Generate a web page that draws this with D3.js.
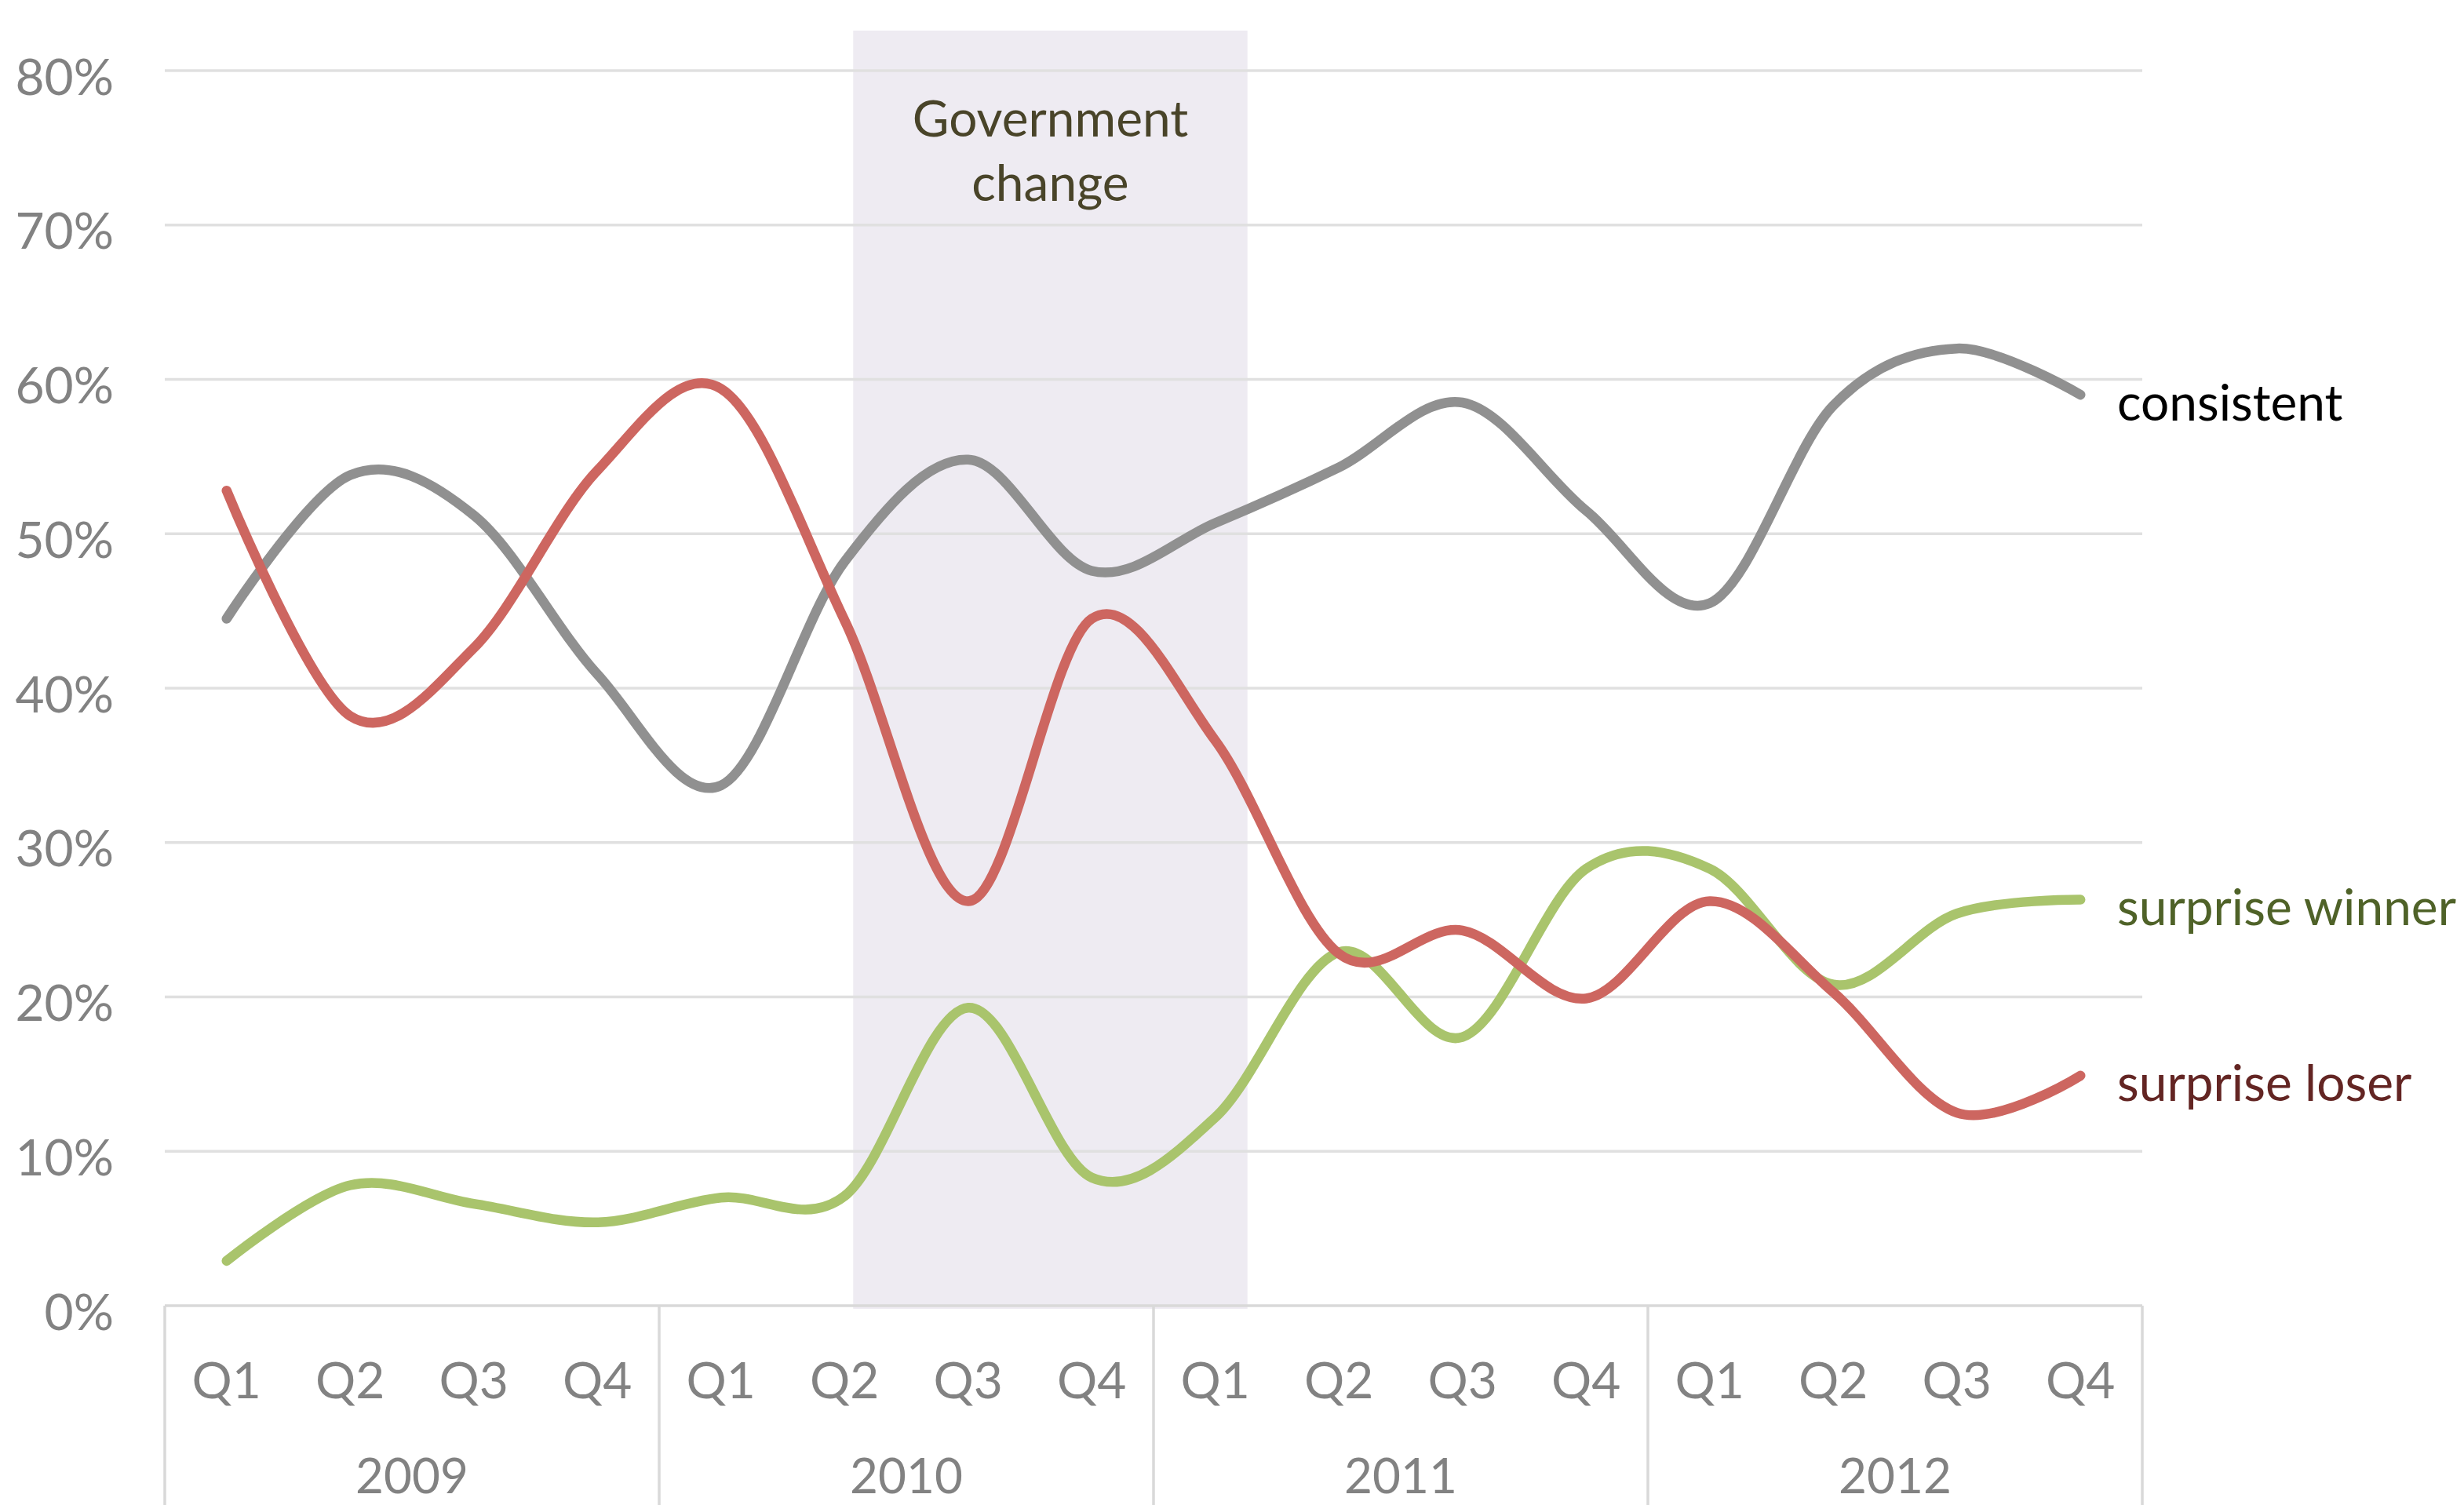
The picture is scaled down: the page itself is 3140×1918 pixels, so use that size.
<!DOCTYPE html>
<html>
<head>
<meta charset="utf-8">
<script src="https://cdn.jsdelivr.net/npm/d3@7"></script>
<style>
  html, body { margin: 0; padding: 0; background: #fff; }
  svg { display: block; font-family: Lato, 'Open Sans', sans-serif; }
</style>
</head>
<body>
<svg id="chart" width="3140" height="1918"></svg>
<script>
const years = ['2009', '2010', '2011', '2012'];
const quarters = ['Q1', 'Q2', 'Q3', 'Q4'];
const yTicks = [0, 0.1, 0.2, 0.3, 0.4, 0.5, 0.6, 0.7, 0.8];

const consistent = [0.445, 0.538, 0.512, 0.409, 0.337, 0.482, 0.548, 0.476,
  0.507, 0.543, 0.585, 0.515, 0.455, 0.583, 0.620, 0.590];
const surpriseLoser = [0.528, 0.382, 0.426, 0.541, 0.594, 0.444, 0.262, 0.445,
  0.366, 0.228, 0.243, 0.199, 0.262, 0.203, 0.125, 0.149];
const surpriseWinner = [0.029, 0.078, 0.066, 0.054, 0.070, 0.071, 0.193, 0.083,
  0.122, 0.229, 0.174, 0.283, 0.283, 0.208, 0.254, 0.263];

const series = [
  { name: 'consistent', values: consistent, line: '#909090', label: '#000000' },
  { name: 'surprise winner', values: surpriseWinner, line: '#a9c46c', label: '#4f6228' },
  { name: 'surprise loser', values: surpriseLoser, line: '#cd6660', label: '#632523' },
];

// shaded period, in quarter-index units
const govChange = { from: 5.07, to: 8.26, text: ['Government', 'change'] };

const width = 3140, height = 1918;
const margin = { top: 90, right: 410, bottom: 254, left: 210 };

const svg = d3.select('#chart');

const periods = years.flatMap((yr) => quarters.map((q) => yr + ' ' + q));

const x = d3
  .scalePoint()
  .domain(periods)
  .range([margin.left, width - margin.right])
  .padding(0.5);
const step = x.step();
const xi = (i) => x(periods[0]) + i * step;

const y = d3
  .scaleLinear()
  .domain([0, 0.8])
  .range([height - margin.bottom, margin.top]);

// shaded band
svg
  .append('rect')
  .attr('x', xi(govChange.from))
  .attr('y', 39)
  .attr('width', xi(govChange.to) - xi(govChange.from))
  .attr('height', y(0) + 4 - 39)
  .attr('fill', '#eeebf2');

// gridlines
svg
  .append('g')
  .selectAll('line')
  .data(yTicks)
  .join('line')
  .attr('x1', margin.left)
  .attr('x2', width - margin.right)
  .attr('y1', (d) => y(d))
  .attr('y2', (d) => y(d))
  .attr('stroke', (d) => (d === 0 ? '#d9d9d9' : '#e0e0e0'))
  .attr('stroke-width', 3.5);

// y labels
svg
  .append('g')
  .selectAll('text')
  .data(yTicks)
  .join('text')
  .attr('x', 145)
  .attr('y', (d) => y(d) + 6)
  .attr('text-anchor', 'end')
  .attr('dominant-baseline', 'central')
  .attr('font-size', 64)
  .attr('fill', '#828282')
  .text(d3.format('.0%'));

// category axis: quarter and year labels with separators
const xAxis = svg.append('g');
xAxis
  .selectAll('line')
  .data(d3.range(years.length + 1))
  .join('line')
  .attr('x1', (i) => margin.left + i * 4 * step)
  .attr('x2', (i) => margin.left + i * 4 * step)
  .attr('y1', y(0))
  .attr('y2', height)
  .attr('stroke', '#d9d9d9')
  .attr('stroke-width', 3.5);

xAxis
  .selectAll('text.q')
  .data(periods)
  .join('text')
  .attr('class', 'q')
  .attr('x', (d) => x(d))
  .attr('y', 1757)
  .attr('text-anchor', 'middle')
  .attr('dominant-baseline', 'central')
  .attr('font-size', 64)
  .attr('fill', '#828282')
  .text((d) => d.split(' ')[1]);

xAxis
  .selectAll('text.yr')
  .data(years)
  .join('text')
  .attr('class', 'yr')
  .attr('x', (d, i) => margin.left + (i * 4 + 2) * step)
  .attr('y', 1879)
  .attr('text-anchor', 'middle')
  .attr('dominant-baseline', 'central')
  .attr('font-size', 62)
  .attr('fill', '#828282')
  .text((d) => d);

// annotation text
svg
  .append('g')
  .selectAll('text')
  .data(govChange.text)
  .join('text')
  .attr('x', (xi(govChange.from) + xi(govChange.to)) / 2)
  .attr('y', (d, i) => 174 + i * 82)
  .attr('text-anchor', 'middle')
  .attr('font-size', 64)
  .attr('fill', '#494429')
  .text((d) => d);

// lines
const line = d3
  .line()
  .x((d, i) => x(periods[i]))
  .y((d) => y(d))
  .curve(d3.curveCardinal.tension(0));

svg
  .append('g')
  .selectAll('path')
  .data(series)
  .join('path')
  .attr('d', (s) => line(s.values))
  .attr('fill', 'none')
  .attr('stroke', (s) => s.line)
  .attr('stroke-width', 12.5)
  .attr('stroke-linecap', 'round')
  .attr('stroke-linejoin', 'round');

// end labels
svg
  .append('g')
  .selectAll('text')
  .data(series)
  .join('text')
  .attr('x', 2698)
  .attr('y', (s) => y(s.values[s.values.length - 1]) + 8)
  .attr('dominant-baseline', 'central')
  .attr('font-size', 64)
  .attr('fill', (s) => s.label)
  .text((s) => s.name);
</script>
</body>
</html>
